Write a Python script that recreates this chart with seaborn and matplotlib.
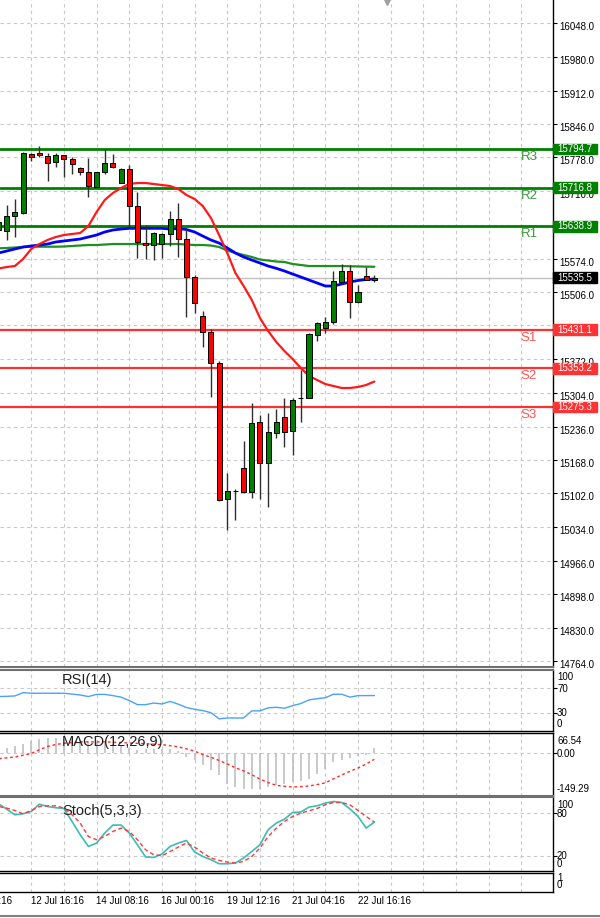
import matplotlib
matplotlib.use("Agg")
import matplotlib.pyplot as plt
import matplotlib.patches as mpatches
import matplotlib.lines as mlines
from matplotlib.transforms import ScaledTranslation, blended_transform_factory
import seaborn as sns

sns.set_theme(style="white")
plt.rcParams['font.family'] = ['Liberation Sans', 'DejaVu Sans']

# ---------------- data ----------------
bars = list(range(47))
opens = [15631.6, 15630.2, 15659.8, 15665.2, 15784.6, 15787.2, 15780.6, 15768.5, 15782.0, 15775.1,
         15756.4, 15747.8, 15718.8, 15747.8, 15767.1, 15726.8, 15754.4, 15680.5, 15606.1, 15601.4,
         15603.4, 15623.0, 15653.7, 15612.9, 15536.4, 15458.5, 15426.9, 15364.5, 15089.5, 15105.4,
         15151.9, 15103.6, 15244.5, 15162.0, 15223.6, 15255.8, 15227.6, 15294.0, 15294.0, 15420.2,
         15434.9, 15447.0, 15527.5, 15549.1, 15486.1, 15539.0, 15530.0]
highs = [15667.8, 15681.9, 15693.4, 15789.2, 15787.2, 15800.7, 15786.0, 15787.2, 15782.6, 15779.2,
         15759.0, 15775.9, 15749.0, 15794.1, 15784.6, 15755.8, 15762.5, 15708.7, 15641.7, 15628.2,
         15625.0, 15670.5, 15685.4, 15635.0, 15541.0, 15468.6, 15431.7, 15368.5, 15141.8, 15109.6,
         15207.5, 15282.8, 15259.2, 15262.6, 15271.3, 15292.8, 15292.8, 15349.8, 15423.7, 15447.0,
         15457.1, 15549.1, 15563.2, 15561.2, 15520.9, 15557.7, 15541.0]
lows = [15615.5, 15611.5, 15616.9, 15663.8, 15771.1, 15779.2, 15730.9, 15759.0, 15737.7, 15744.3,
        15742.9, 15697.4, 15718.8, 15743.7, 15755.8, 15725.6, 15637.1, 15574.6, 15572.6, 15571.2,
        15574.6, 15600.0, 15577.9, 15457.1, 15463.9, 15396.7, 15294.8, 15086.7, 15027.7, 15047.8,
        15101.6, 15091.5, 15089.5, 15073.4, 15212.3, 15195.4, 15178.7, 15245.7, 15292.8, 15408.8,
        15424.9, 15442.4, 15524.3, 15453.9, 15484.1, 15530.0, 15527.6]
closes = [15647.7, 15659.8, 15668.4, 15786.0, 15777.9, 15782.0, 15765.9, 15782.0, 15775.1, 15764.5,
          15747.8, 15720.8, 15747.8, 15767.1, 15759.0, 15754.4, 15680.5, 15608.1, 15600.8, 15625.0,
          15623.0, 15653.7, 15612.9, 15536.4, 15485.3, 15426.9, 15363.3, 15088.1, 15106.2, 15107.0,
          15104.8, 15242.5, 15162.0, 15225.6, 15244.5, 15225.6, 15289.4, 15292.8, 15421.6, 15443.8,
          15447.0, 15528.9, 15549.1, 15487.3, 15507.4, 15530.9, 15535.5]

ma_fast = [15554.1, 15557.1, 15559.1, 15573.2, 15593.4, 15603.4, 15611.5, 15617.5, 15621.5, 15623.6,
           15625.6, 15639.7, 15667.8, 15692.0, 15706.1, 15716.2, 15724.2, 15726.2, 15726.2, 15724.2,
           15722.2, 15720.2, 15714.1, 15702.1, 15694.0, 15679.9, 15655.8, 15621.5, 15585.3, 15545.1,
           15518.9, 15490.7, 15454.5, 15428.3, 15406.2, 15388.0, 15371.9, 15353.8, 15337.7, 15329.7,
           15321.6, 15317.6, 15313.6, 15313.6, 15315.6, 15319.6, 15326.6]
ma_mid = [15585.3, 15589.3, 15593.4, 15597.4, 15599.4, 15601.4, 15603.4, 15607.5, 15609.5, 15611.5,
          15613.5, 15617.5, 15621.5, 15627.6, 15631.6, 15633.6, 15635.0, 15635.0, 15635.0, 15635.0,
          15635.0, 15633.6, 15634.6, 15632.6, 15627.6, 15619.5, 15611.5, 15605.4, 15595.4, 15585.3,
          15577.3, 15571.2, 15565.2, 15559.1, 15554.5, 15549.1, 15543.0, 15537.0, 15531.0, 15524.9,
          15518.9, 15518.9, 15522.9, 15526.9, 15530.0, 15532.0, 15533.0]
ma_slow = [15594.8, 15595.4, 15596.4, 15597.4, 15598.0, 15598.0, 15598.0, 15598.0, 15598.4, 15599.4,
           15600.4, 15601.4, 15601.4, 15602.4, 15603.4, 15603.4, 15603.4, 15603.4, 15603.4, 15603.4,
           15603.4, 15603.4, 15603.4, 15602.4, 15601.4, 15601.4, 15600.4, 15597.4, 15590.3, 15585.3,
           15581.3, 15577.3, 15572.2, 15570.2, 15568.2, 15567.2, 15563.2, 15561.2, 15559.1, 15559.1,
           15559.1, 15559.1, 15559.1, 15558.7, 15558.3, 15557.9, 15557.7]

rsi = [56.5, 56.8, 57.5, 62.9, 61.9, 61.9, 61.9, 61.9, 61.9, 60.5,
       59.0, 56.5, 60.0, 60.0, 58.0, 55.5, 50.0, 43.2, 43.2, 45.9,
       44.3, 48.5, 44.0, 38.5, 35.5, 33.5, 30.0, 20.0, 21.3, 21.3,
       21.3, 33.0, 33.0, 37.9, 38.9, 37.3, 41.5, 45.0, 51.0, 53.0,
       54.5, 60.3, 60.3, 55.5, 58.0, 58.0, 58.1]

macd_hist = [12, 16, 23, 28, 39, 48, 51, 51, 48, 46,
             42, 40, 37, 34, 30, 23, 16, 8, 11, 14,
             14, 14, 5, -15, -26, -41, -61, -78, -107, -118,
             -124, -126, -124, -118, -110, -107, -101, -99, -92, -72,
             -55, -32, -26, -18, -11, -7, 16]
macd_signal = [-21, -18, -15, -9, -3, 10, 21, 28, 32, 35,
               37, 37, 37, 37, 36, 34.5, 33, 32, 31, 29,
               27.5, 24, 20, 13, 5, -6.5, -16, -27, -39, -52,
               -63, -76, -91, -103, -112.6, -116, -118.4, -117, -115, -110,
               -104, -90, -77, -64.5, -53, -39, -23]

stoch_k = [93.5, 86.0, 78.0, 79.5, 82.7, 93.0, 89.7, 88.0, 87.0, 68.6,
           50.0, 33.5, 38.2, 52.3, 63.6, 63.6, 52.3, 35.9, 18.6, 18.0,
           22.8, 33.5, 38.2, 41.9, 25.6, 19.4, 14.8, 9.1, 9.1, 10.1,
           17.2, 26.4, 35.9, 57.0, 66.4, 72.0, 81.3, 81.9, 88.9, 90.7,
           94.5, 96.8, 95.4, 86.5, 75.7, 59.3, 67.8]
stoch_d = [89.7, 87.5, 84.1, 79.5, 84.1, 89.7, 90.7, 90.7, 87.5, 78.0,
           66.4, 47.5, 42.9, 47.5, 54.6, 59.3, 54.6, 42.9, 28.8, 21.8,
           20.4, 26.4, 32.6, 38.2, 32.6, 24.2, 17.2, 13.8, 11.5, 10.1,
           12.4, 19.4, 31.2, 47.5, 59.3, 68.6, 75.7, 80.4, 83.7, 87.0,
           92.1, 95.4, 95.4, 92.1, 84.1, 75.7, 67.8]

res_names = ["R3", "R2", "R1"]
res_levels = [15794.7, 15716.8, 15638.9]
sup_names = ["S1", "S2", "S3"]
sup_levels = [15431.1, 15353.2, 15275.3]
last_price = 15535.5

price_ticks = [16048.0, 15980.0, 15912.0, 15846.0, 15778.0, 15710.0, 15642.0, 15574.0, 15506.0,
               15440.0, 15372.0, 15304.0, 15236.0, 15168.0, 15102.0, 15034.0, 14966.0, 14898.0,
               14830.0, 14764.0]
time_labels = ["11 Jul 00:16", "12 Jul 16:16", "14 Jul 08:16", "16 Jul 00:16",
               "19 Jul 12:16", "21 Jul 04:16", "22 Jul 16:16"]
time_label_bars = [-4, 4, 12, 20, 28, 36, 44]

# ---------------- layout ----------------
W, H = 600, 918
fig = plt.figure(figsize=(6, 9.18), dpi=100)
fig.patch.set_facecolor('white')
AXW = 553 / W


def add(top, bottom):
    return fig.add_axes([0, 1 - bottom / H, AXW, (bottom - top) / H])


ax = add(0, 667)
ax_rsi = add(670, 731)
ax_macd = add(733.3, 796)
ax_st = add(797.3, 870.7)
ax_bl = add(873.3, 891.7)
all_axes = [ax, ax_rsi, ax_macd, ax_st, ax_bl]

XLIM = (0.18, 67.87)
GRID_X = list(range(4, 68, 4))
dash = (0, (3, 3))
gcol = '#c8c8c8'

for a in all_axes:
    a.set_xlim(*XLIM)
    a.set_facecolor('white')
    a.set_xticks(GRID_X)
    a.tick_params(axis='x', bottom=False, top=False, labelbottom=False, length=0)
    a.grid(True, axis='both', linestyle=dash, color=gcol, lw=0.8)
    a.set_axisbelow(True)
    a.spines['left'].set_visible(False)
    for s in ['top', 'bottom', 'right']:
        a.spines[s].set_color('black')
        a.spines[s].set_linewidth(1.0)
    a.tick_params(axis='y', left=False, right=True, labelleft=False, labelright=True,
                  direction='out', length=3, width=0.8, color='black',
                  labelsize=7, pad=1.5, labelcolor='black')

# ---------------- main price panel ----------------
ax.set_ylim(14752.0, 16094.6)
ax.spines['top'].set_visible(False)
ax.spines['bottom'].set_color('#707070')
ax.spines['bottom'].set_linewidth(1.5)
ax.set_yticks(price_ticks)
ax.set_yticklabels([f"{v:.1f}" for v in price_ticks])
off = ScaledTranslation(0, -0.03, fig.dpi_scale_trans)
for lab in ax.get_yticklabels():
    lab.set_transform(lab.get_transform() + off)

# level lines
for v in res_levels:
    ax.axhline(v, color='#008000', lw=2, zorder=2.5)
for v in sup_levels:
    ax.axhline(v, color='#ff3030', lw=1.6, zorder=2.5)
ax.axhline(last_price, color='#c0c0c0', lw=1, zorder=2.4)

# candles
wick_col = '#303030'
ax.vlines(bars, lows, highs, color=wick_col, lw=1, zorder=3.5)
bottoms = [min(o, c) for o, c in zip(opens, closes)]
heights = [max(abs(c - o), 1.0) for o, c in zip(opens, closes)]
cols = ['#008000' if c >= o else '#ff0000' for o, c in zip(opens, closes)]
ax.bar(bars, heights, bottom=bottoms, width=0.62, color=cols, edgecolor='black',
       linewidth=0.7, zorder=4)

# moving averages
sns.lineplot(x=bars, y=ma_slow, ax=ax, color='#1f8f1f', lw=1.6, zorder=3)
sns.lineplot(x=bars, y=ma_mid, ax=ax, color='#0000ff', lw=2.0, zorder=3.1)
sns.lineplot(x=bars, y=ma_fast, ax=ax, color='#ff1a1a', lw=1.6, zorder=3.2)
ax.set_xlim(*XLIM)
ax.set_ylim(14752.0, 16094.6)

# level names
for n, v in zip(res_names, res_levels):
    ax.text(64.93, v - 16, n, ha='center', va='center', color='#3c9a3c', fontsize=9.5, zorder=6)
for n, v in zip(sup_names, sup_levels):
    ax.text(64.93, v - 16, n, ha='center', va='center', color='#ff5555', fontsize=9.5, zorder=6)

# right-hand price boxes
bt = blended_transform_factory(ax.transAxes, ax.transData)
box_w = 44 / 553
for v, col in list(zip(res_levels, ['#008000'] * 3)) + list(zip(sup_levels, ['#ff3333'] * 3)) + [(last_price, '#000000')]:
    ax.add_patch(mpatches.Rectangle((1.0, v - 11), box_w, 22, transform=bt, clip_on=False,
                                    facecolor=col, edgecolor=col, zorder=10))
    ax.text(1.0 + 4.5 / 553, v, f"{v:.1f}", transform=bt, ha='left', va='center',
            color='white', fontsize=7, zorder=11, clip_on=False)

# shift marker at the top
ax.plot([47.55], [16094.6], marker='v', color='#a0a0a0', ms=7, clip_on=False, zorder=10)

# ---------------- RSI ----------------
ax_rsi.set_ylim(0, 100)
ax_rsi.set_yticks([30, 70])
ax_rsi.set_yticklabels([])
ax_rsi.spines['top'].set_color('#707070')
ax_rsi.spines['top'].set_linewidth(1.5)
sns.lineplot(x=bars, y=rsi, ax=ax_rsi, color='#4aa3f5', lw=1.0)
ax_rsi.set_xlim(*XLIM)
ax_rsi.set_ylim(0, 100)
ax_rsi.text(62 / 553, 0.836, "RSI(14)", transform=ax_rsi.transAxes, ha='left', va='center',
            fontsize=10.5, color='#202020')

# ---------------- MACD ----------------
ax_macd.set_ylim(-149.29, 66.54)
ax_macd.set_yticks([0])
ax_macd.set_yticklabels([])
ax_macd.spines['bottom'].set_color('#707070')
ax_macd.spines['bottom'].set_linewidth(1.5)
ax_macd.vlines(bars, 0, macd_hist, color='#c0c0c0', lw=1.2, zorder=2)
sns.lineplot(x=bars, y=macd_signal, ax=ax_macd, color='#ff2a2a', lw=1.0, zorder=3)
ax_macd.lines[-1].set_linestyle((0, (2, 2)))
ax_macd.set_xlim(*XLIM)
ax_macd.set_ylim(-149.29, 66.54)
ax_macd.text(62 / 553, 0.866, "MACD(12,26,9)", transform=ax_macd.transAxes, ha='left', va='center',
             fontsize=10.5, color='#202020', zorder=5)

# ---------------- Stochastic ----------------
ax_st.set_ylim(-0.7, 102.7)
ax_st.set_yticks([20, 80])
ax_st.set_yticklabels([])
ax_st.spines['top'].set_color('#707070')
ax_st.spines['top'].set_linewidth(1.5)
sns.lineplot(x=bars, y=stoch_k, ax=ax_st, color='#3cbcb4', lw=1.2, zorder=3)
sns.lineplot(x=bars, y=stoch_d, ax=ax_st, color='#ff3a3a', lw=1.0, zorder=3.1)
ax_st.lines[-1].set_linestyle((0, (3, 2)))
ax_st.set_xlim(*XLIM)
ax_st.set_ylim(-0.7, 102.7)
ax_st.text(62 / 553, 0.82, "Stoch(5,3,3)", transform=ax_st.transAxes, ha='left', va='center',
           fontsize=10.5, color='#202020')

# ---------------- blank bottom panel + time axis ----------------
ax_bl.set_ylim(0, 1)
ax_bl.set_yticks([])
ax_bl.set_xticks(time_label_bars[1:], minor=True)
ax_bl.tick_params(axis='x', which='minor', bottom=True, length=3, width=0.8, color='black',
                  direction='out')
btx = blended_transform_factory(ax_bl.transData, ax_bl.transAxes)
for j, lab in zip(time_label_bars, time_labels):
    shift = -0.7 if j < 0 else -0.06
    ax_bl.text(j + shift, -0.5, lab, transform=btx, ha='left', va='center', fontsize=7,
               color='black', clip_on=False)

# right-hand labels of the indicator panels
right_labels = [("100", 677), ("70", 689), ("30", 713), ("0", 724),
                ("66.54", 741), ("0.00", 754), ("-149.29", 789),
                ("100", 805), ("80", 814), ("20", 856), ("0", 864),
                ("1", 878), ("0", 885)]
for t, y in right_labels:
    fig.text(557 / W, 1 - y / H, t, ha='left', va='center', fontsize=7, color='black')

# bottom frame line
fig.add_artist(mlines.Line2D([0, 1], [1 - 915.5 / H] * 2, color='#808080', lw=1.5))

fig.savefig("out.png", dpi=100, facecolor='white')
